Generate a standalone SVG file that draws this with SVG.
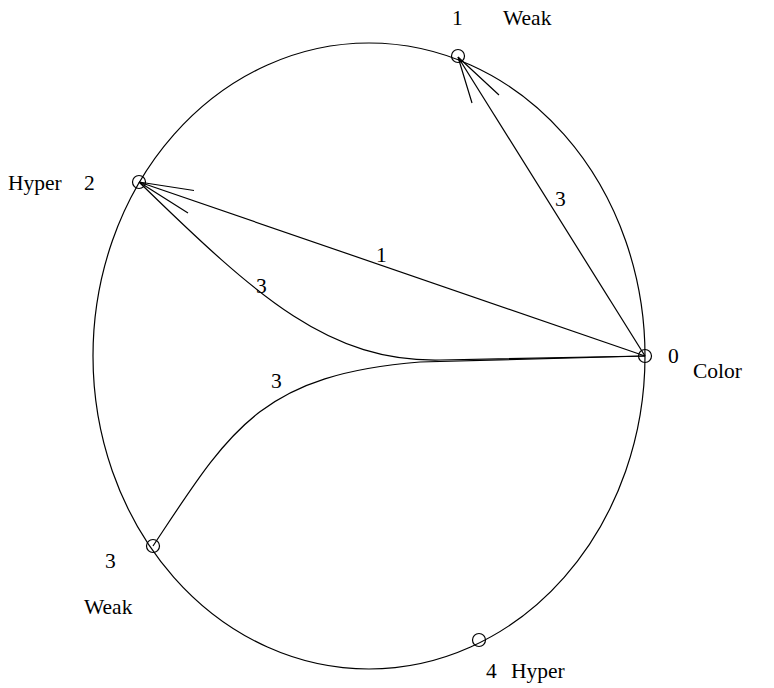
<svg xmlns="http://www.w3.org/2000/svg" width="774" height="688" viewBox="0 0 774 688">
<style>
.t{font-family:"Liberation Serif","Times New Roman",serif;font-size:21.5px;fill:#000}
.ln{fill:none;stroke:#000;stroke-width:1.2}
.nd{fill:none;stroke:#000;stroke-width:1.2}
</style>
<rect width="774" height="688" fill="#fff"/>
<ellipse class="ln" cx="369" cy="356" rx="276" ry="313"/>
<g id="connectors">
<path class="ln" d="M645,356 L458,57"/>
<path class="ln" d="M458,57 L472,103 M458,57 L499,95"/>
<path class="ln" d="M645,356 L139,182"/>
<path class="ln" d="M139,182 L194,190.5 M139,182 L188,213"/>
<path class="ln" d="M139,182 C260,300 330,362 440,360 L645,356"/>
<path class="ln" d="M153,546 C230,430 260,375 420,362 L645,356"/>
<text class="t" x="555" y="206">3</text>
<text class="t" x="376" y="262">1</text>
<text class="t" x="256" y="293">3</text>
<text class="t" x="271" y="388">3</text>
</g>
<g id="node0">
<circle class="nd" cx="645" cy="356" r="6.5"/>
<text class="t" x="668" y="363">0</text>
<text class="t" x="693" y="378">Color</text>
</g>
<g id="node1">
<circle class="nd" cx="458" cy="56" r="6.5"/>
<text class="t" x="452" y="25">1</text>
<text class="t" x="503" y="25">Weak</text>
</g>
<g id="node2">
<circle class="nd" cx="139" cy="182" r="6.5"/>
<text class="t" x="8" y="190">Hyper</text>
<text class="t" x="84" y="190">2</text>
</g>
<g id="node3">
<circle class="nd" cx="153" cy="546" r="6.5"/>
<text class="t" x="105" y="568">3</text>
<text class="t" x="84" y="614">Weak</text>
</g>
<g id="node4">
<circle class="nd" cx="479" cy="640" r="6.5"/>
<text class="t" x="486" y="678">4</text>
<text class="t" x="511" y="678">Hyper</text>
</g>
</svg>
